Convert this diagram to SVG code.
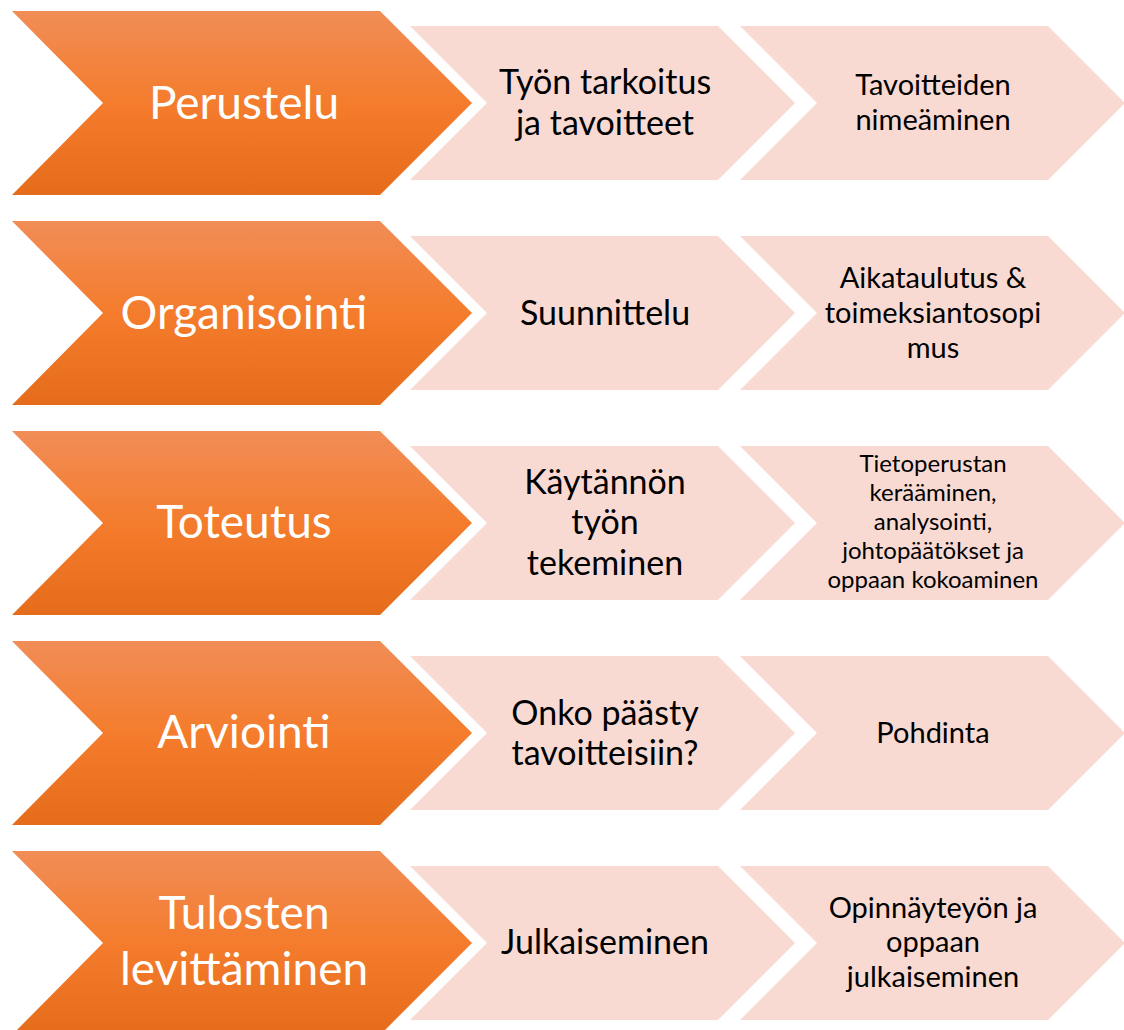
<svg xmlns="http://www.w3.org/2000/svg" width="1124" height="1030" viewBox="0 0 1124 1030">
<defs>
<linearGradient id="og" x1="0" y1="0" x2="0" y2="1">
<stop offset="0" stop-color="#F18D57"/>
<stop offset="0.5" stop-color="#F47C2C"/>
<stop offset="1" stop-color="#E56C1B"/>
</linearGradient>
<path id="big" d="M0,-92 H368 L460,0 L368,92 H0 L91,0 Z"/>
<path id="small" d="M0,-77 H308 L385,0 L308,77 H0 L77,0 Z"/>
</defs>
<style>
.o{fill:url(#og)}
.p{fill:#F8DAD3}
.t{font-family:Lato,"Open Sans","Liberation Sans",sans-serif;text-anchor:middle}
.w{fill:#FFFFFF;font-size:46px}
.m{fill:#000000;font-size:34px}
.s{fill:#000000;font-size:29px}
.xs{fill:#000000;font-size:24px}
</style>
<rect width="1124" height="1030" fill="#FFFFFF"/>
<g id="connectors"/>

<g id="row1">
<g id="n1a"><use href="#big" class="o" x="12" y="103"/><text class="t w" x="244" y="119">Perustelu</text></g>
<g id="n1b"><use href="#small" class="p" x="410" y="103"/><text class="t m" x="605" y="94">Työn tarkoitus</text><text class="t m" x="605" y="135">ja tavoitteet</text></g>
<g id="n1c"><use href="#small" class="p" x="740" y="103"/><text class="t s" x="933" y="95">Tavoitteiden</text><text class="t s" x="933" y="130">nimeäminen</text></g>
</g>

<g id="row2">
<g id="n2a"><use href="#big" class="o" x="12" y="313"/><text class="t w" x="244" y="329">Organisointi</text></g>
<g id="n2b"><use href="#small" class="p" x="410" y="313"/><text class="t m" x="605" y="325">Suunnittelu</text></g>
<g id="n2c"><use href="#small" class="p" x="740" y="313"/><text class="t s" x="933" y="288">Aikataulutus &amp;</text><text class="t s" x="933" y="323">toimeksiantosopi</text><text class="t s" x="933" y="358">mus</text></g>
</g>

<g id="row3">
<g id="n3a"><use href="#big" class="o" x="12" y="523"/><text class="t w" x="244" y="538">Toteutus</text></g>
<g id="n3b"><use href="#small" class="p" x="410" y="523"/><text class="t m" x="605" y="494">Käytännön</text><text class="t m" x="605" y="534">työn</text><text class="t m" x="605" y="575">tekeminen</text></g>
<g id="n3c"><use href="#small" class="p" x="740" y="523"/><text class="t xs" x="933" y="472">Tietoperustan</text><text class="t xs" x="933" y="501">kerääminen,</text><text class="t xs" x="933" y="530">analysointi,</text><text class="t xs" x="933" y="559">johtopäätökset ja</text><text class="t xs" x="933" y="588">oppaan kokoaminen</text></g>
</g>

<g id="row4">
<g id="n4a"><use href="#big" class="o" x="12" y="733"/><text class="t w" x="244" y="748">Arviointi</text></g>
<g id="n4b"><use href="#small" class="p" x="410" y="733"/><text class="t m" x="605" y="725">Onko päästy</text><text class="t m" x="605" y="765">tavoitteisiin?</text></g>
<g id="n4c"><use href="#small" class="p" x="740" y="733"/><text class="t s" x="933" y="743">Pohdinta</text></g>
</g>

<g id="row5">
<g id="n5a"><use href="#big" class="o" x="12" y="943"/><text class="t w" x="244" y="929">Tulosten</text><text class="t w" x="244" y="985">levittäminen</text></g>
<g id="n5b"><use href="#small" class="p" x="410" y="943"/><text class="t m" x="605" y="954">Julkaiseminen</text></g>
<g id="n5c"><use href="#small" class="p" x="740" y="943"/><text class="t s" x="933" y="918">Opinnäyteyön ja</text><text class="t s" x="933" y="952">oppaan</text><text class="t s" x="933" y="987">julkaiseminen</text></g>
</g>
</svg>
